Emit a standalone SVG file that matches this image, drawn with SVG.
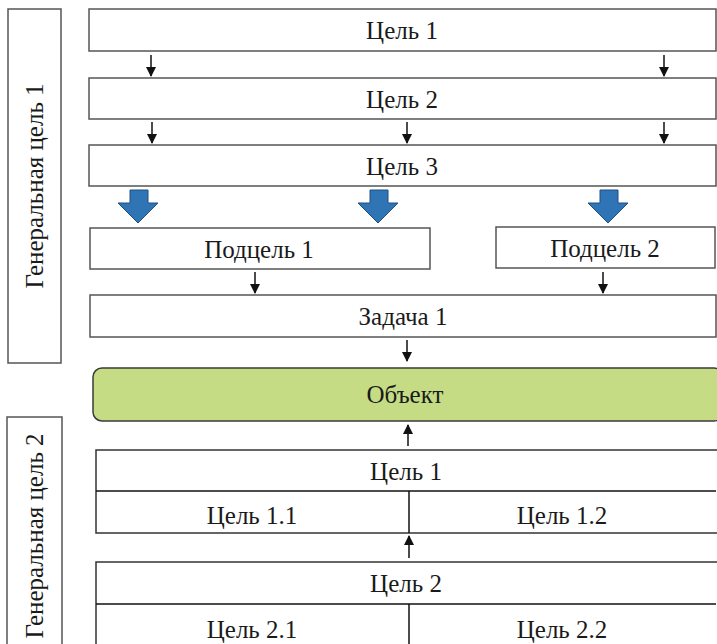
<svg xmlns="http://www.w3.org/2000/svg" width="717" height="644" viewBox="0 0 717 644">
<style>
.box{fill:#fff;stroke:#555;stroke-width:1.5}
.box2{fill:#fff;stroke:#333;stroke-width:1.5}
.lbl{font-family:"Liberation Serif","Times New Roman",serif;font-size:25px;fill:#1a1a1a;text-anchor:middle}
.ln{stroke:#111;stroke-width:1.5;fill:none}
.blk{fill:#2f74b5;stroke:#1f4f80;stroke-width:1}
</style>
<defs>
<marker id="ah" markerWidth="10" markerHeight="10" refX="9" refY="5" orient="auto" markerUnits="userSpaceOnUse">
<path d="M0,0 L10,5 L0,10 z" fill="#111"/>
</marker>
</defs>
<rect width="717" height="644" fill="#fff"/>
<g id="gen1"><rect class="box" x="8" y="9" width="53" height="354"/>
<text class="lbl" transform="translate(43,186) rotate(-90)">Генеральная цель 1</text></g>
<g id="gen2"><rect class="box" x="7" y="417" width="55" height="240"/>
<text class="lbl" transform="translate(43,536) rotate(-90)">Генеральная цель 2</text></g>
<g id="goal1"><rect class="box" x="89" y="9" width="627" height="42"/><text class="lbl" x="402" y="39">Цель 1</text></g>
<g id="goal2"><rect class="box" x="89" y="78" width="627" height="41"/><text class="lbl" x="402" y="108">Цель 2</text></g>
<g id="goal3"><rect class="box" x="89" y="145" width="627" height="41"/><text class="lbl" x="402" y="175">Цель 3</text></g>
<g id="sub1"><rect class="box" x="90" y="228" width="340" height="41"/><text class="lbl" x="259" y="258">Подцель 1</text></g>
<g id="sub2"><rect class="box" x="496" y="227" width="219" height="41"/><text class="lbl" x="605" y="257">Подцель 2</text></g>
<g id="task1"><rect class="box" x="90" y="295" width="626" height="42"/><text class="lbl" x="403" y="325">Задача 1</text></g>
<g id="object"><rect x="93" y="368" width="630" height="53" rx="9" fill="#c6dc84" stroke="#3a3a3a" stroke-width="1.5"/><text class="lbl" x="405" y="403">Объект</text></g>
<g id="lgoal1"><rect class="box2" x="96" y="450" width="625" height="83"/>
<line class="ln" x1="96" y1="491" x2="716" y2="491"/><line class="ln" x1="409" y1="491" x2="409" y2="533"/>
<text class="lbl" x="406" y="480">Цель 1</text><text class="lbl" x="252" y="524">Цель 1.1</text><text class="lbl" x="562" y="524">Цель 1.2</text></g>
<g id="lgoal2"><rect class="box2" x="96" y="562" width="625" height="95"/>
<line class="ln" x1="96" y1="604" x2="716" y2="604"/><line class="ln" x1="409" y1="604" x2="409" y2="644"/>
<text class="lbl" x="406" y="592">Цель 2</text><text class="lbl" x="252" y="638">Цель 2.1</text><text class="lbl" x="562" y="638">Цель 2.2</text></g>
<g id="connectors">
<line class="ln" x1="151" y1="55" x2="151" y2="76" marker-end="url(#ah)"/>
<line class="ln" x1="664" y1="55" x2="664" y2="76" marker-end="url(#ah)"/>
<line class="ln" x1="152" y1="122" x2="152" y2="143" marker-end="url(#ah)"/>
<line class="ln" x1="407" y1="122" x2="407" y2="143" marker-end="url(#ah)"/>
<line class="ln" x1="664" y1="122" x2="664" y2="143" marker-end="url(#ah)"/>
<path class="blk" d="M130,190 h18 v13 h10 l-20,20 l-20,-20 h12 z"/>
<path class="blk" d="M370,190 h18 v13 h10 l-20,20 l-20,-20 h12 z"/>
<path class="blk" d="M600,190 h18 v13 h10 l-20,20 l-20,-20 h12 z"/>
<line class="ln" x1="255" y1="272" x2="255" y2="293" marker-end="url(#ah)"/>
<line class="ln" x1="603" y1="272" x2="603" y2="293" marker-end="url(#ah)"/>
<line class="ln" x1="407" y1="340" x2="407" y2="361" marker-end="url(#ah)"/>
<line class="ln" x1="408" y1="446" x2="408" y2="425" marker-end="url(#ah)"/>
<line class="ln" x1="409" y1="558" x2="409" y2="536" marker-end="url(#ah)"/>
</g>
</svg>
